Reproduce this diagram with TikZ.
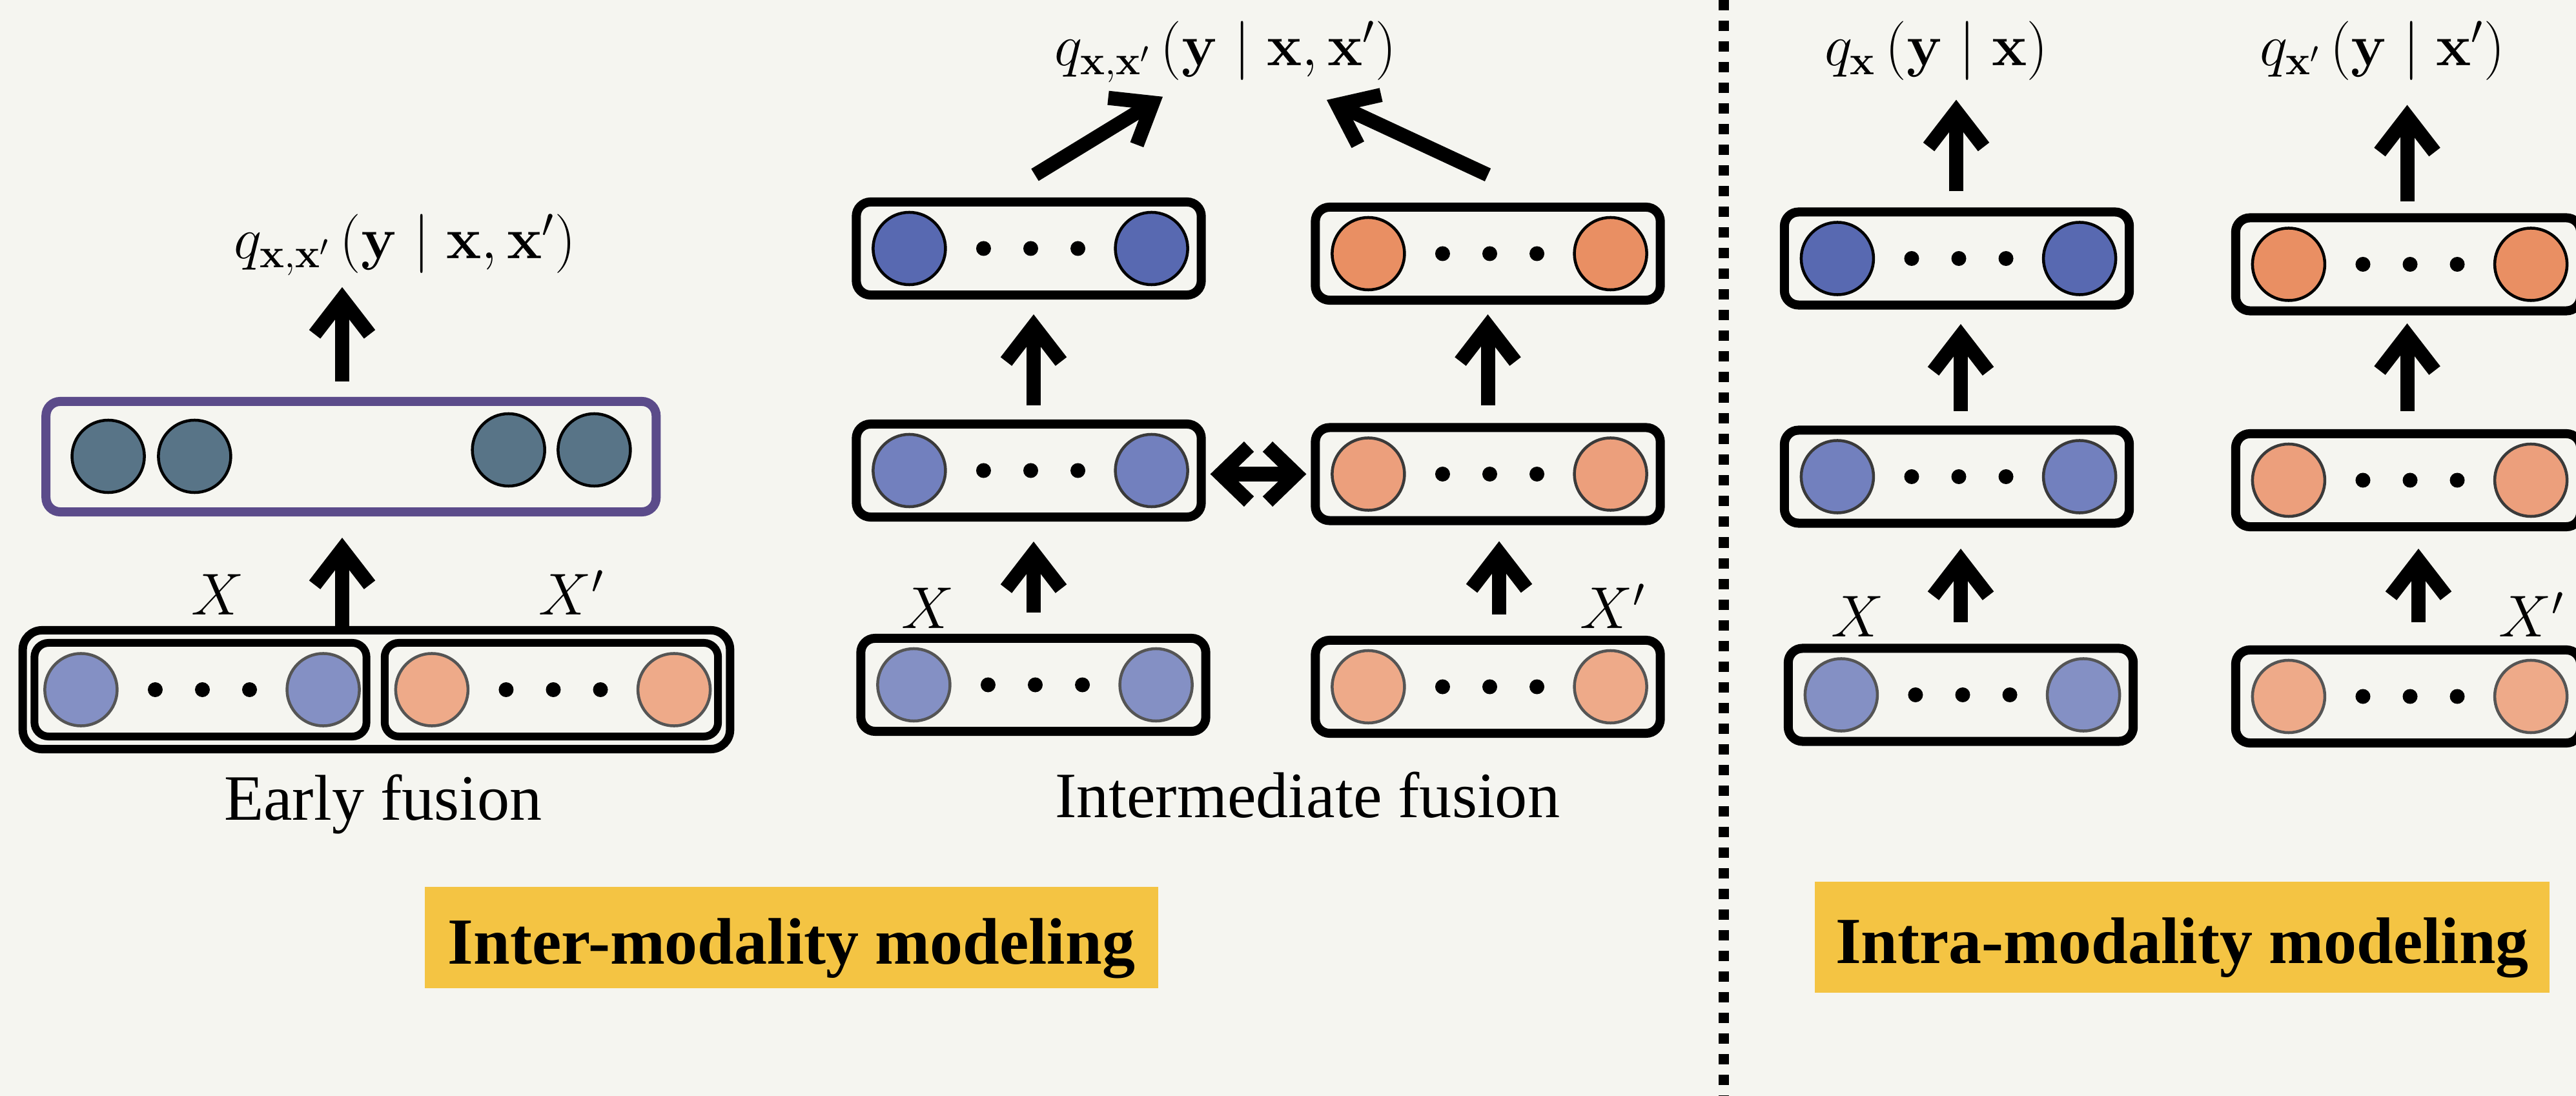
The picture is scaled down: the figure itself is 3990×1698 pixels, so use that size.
\RequirePackage{fix-cm}
\documentclass[tikz,border=0pt]{standalone}
\usepackage[no-math]{fontspec}
\setmainfont{Liberation Serif}
\usetikzlibrary{arrows.meta,calc}

\definecolor{paper}{HTML}{F5F5F0}
\definecolor{tagyellow}{HTML}{F4C443}
\definecolor{fusepurple}{HTML}{5B4B8A}
\definecolor{fuseteal}{HTML}{587487}
\definecolor{bluetop}{HTML}{5869B1}
\definecolor{bluemid}{HTML}{7280BE}
\definecolor{bluelow}{HTML}{8490C4}
\definecolor{orangetop}{HTML}{E98F63}
\definecolor{orangemid}{HTML}{EC9F7C}
\definecolor{orangelow}{HTML}{EEAA89}
\definecolor{ringmid}{HTML}{3A3A3A}
\definecolor{ringlow}{HTML}{555555}

% one layer: rounded box, two units, three dots
\newcommand\mklayer[5]{%
  \node[#5] (#1) at (#2) {};
  \node[unit, fill=#3, draw=#4] (#1-l) at ([xshift=-1.85cm]#1.center) {};
  \node[unit, fill=#3, draw=#4] (#1-r) at ([xshift=1.90cm]#1.center) {};
  \node[dot] (#1-d1) at ([xshift=-0.70cm]#1.center) {};
  \node[dot] (#1-d2) at ([xshift=0.03cm]#1.center) {};
  \node[dot] (#1-d3) at ([xshift=0.76cm]#1.center) {};
}

\begin{document}
\begin{tikzpicture}[x=0.01cm, y=-0.01cm,
  box/.style={draw=black, line width=0.14cm, rounded corners=0.22cm, fill=paper,
    minimum width=5.34cm, minimum height=1.44cm, inner sep=0pt},
  inbox/.style={box, line width=0.12cm, minimum width=5.14cm, minimum height=1.45cm},
  unit/.style={circle, line width=0.045cm, minimum size=1.12cm, inner sep=0pt},
  dot/.style={circle, fill=black, minimum size=0.23cm, inner sep=0pt},
  arr/.style={line width=0.22cm, -{Straight Barb[length=0.55cm,width=0.85cm]}},
  biarr/.style={line width=0.22cm,
    {Straight Barb[length=0.44cm,width=0.85cm]}-{Straight Barb[length=0.44cm,width=0.85cm]}},
  lbl/.style={inner sep=0pt, anchor=base, font=\fontsize{28.5}{34}\selectfont},
  mlbl/.style={inner sep=0pt, anchor=base, font=\fontsize{26}{30}\selectfont},
  tag/.style={fill=tagyellow, inner sep=0pt, text height=1.0cm, text depth=0.19cm,
    font=\fontsize{29}{34}\selectfont\bfseries}]

\path[use as bounding box, fill=paper] (0,0) rectangle (3990,1698);

% ---------- early fusion ----------
\node[box, line width=0.13cm, minimum width=10.95cm, minimum height=1.84cm,
  rounded corners=0.3cm] (ef) at (583,1068.5) {};
\mklayer{efx}{310.5,1068.5}{bluelow}{ringlow}{inbox}
\mklayer{efy}{854,1068.5}{orangelow}{ringlow}{inbox, minimum width=5.16cm}
\node[box, draw=fusepurple, minimum width=9.445cm, minimum height=1.71cm] (efh) at (543.75,707.5) {};
\node[unit, fill=fuseteal, draw=black] (efh-1) at (167.6,707) {};
\node[unit, fill=fuseteal, draw=black] (efh-2) at (301.4,707) {};
\node[unit, fill=fuseteal, draw=black] (efh-3) at (787.7,697) {};
\node[unit, fill=fuseteal, draw=black] (efh-4) at (920.4,697) {};
\node[mlbl] (efq) at (627,401) {$q_{\mathbf{x},\mathbf{x}'}\,\bigl(\mathbf{y}\mid\mathbf{x},\mathbf{x}'\bigr)$};
\node[mlbl] (efxl) at (337,953) {$X$};
\node[mlbl] (efyl) at (885,953) {$X'$};
\node[lbl] (eftitle) at (593.5,1271) {Early fusion};
\coordinate (efcol) at (530,0);
\draw[arr, shorten >=0.33cm] (ef.north -| efcol) -- (efh.south -| efcol);
\draw[arr, shorten <=0.24cm, shorten >=0.17cm] (efh.north -| efcol) -- (efq.south -| efcol);

% ---------- intermediate fusion ----------
\mklayer{ilt}{1593.5,385}{bluetop}{black}{box}
\mklayer{irt}{2304.5,393}{orangetop}{black}{box}
\mklayer{ilm}{1593.5,729}{bluemid}{ringmid}{box}
\mklayer{irm}{2304.5,734.5}{orangemid}{ringmid}{box}
\mklayer{ilb}{1600.5,1061}{bluelow}{ringlow}{box}
\mklayer{irb}{2304.5,1064}{orangelow}{ringlow}{box}
\node[mlbl] (iq) at (1898,102) {$q_{\mathbf{x},\mathbf{x}'}\,\bigl(\mathbf{y}\mid\mathbf{x},\mathbf{x}'\bigr)$};
\node[mlbl] (ixl) at (1437,974) {$X$};
\node[mlbl] (iyl) at (2498,974) {$X'$};
\node[lbl] (ititle) at (2025,1267) {Intermediate fusion};
\coordinate (ilcol) at (1601,0);
\coordinate (ircola) at (2304.5,0);
\coordinate (ircolb) at (2322,0);
\draw[arr, shorten <=0.22cm, shorten >=0.23cm] (ilm.north -| ilcol) -- (ilt.south -| ilcol);
\draw[arr, shorten <=0.33cm, shorten >=0.31cm] (ilb.north -| ilcol) -- (ilm.south -| ilcol);
\draw[arr, shorten <=0.27cm, shorten >=0.15cm] (irm.north -| ircola) -- (irt.south -| ircola);
\draw[arr, shorten <=0.33cm, shorten >=0.25cm] (irb.north -| ircolb) -- (irm.south -| ircolb);
\draw[arr] ($(ilt.north)+(9.5,-35)$) -- ($(iq.south)+(-97,21)$);
\draw[arr] ($(irt.north)+(0,-43)$) -- ($(iq.south)+(157,26)$);
\draw[biarr, shorten <=0.07cm, shorten >=0.07cm] (ilm.east |- irm.west) -- (irm.west);

% ---------- separator ----------
\draw[line width=0.16cm, dash pattern=on 0.16cm off 0.16cm] (2670,0) -- (2670,1698);

% ---------- intra-modality ----------
\mklayer{alt}{3031,400.5}{bluetop}{black}{box}
\mklayer{alm}{3031,738.5}{bluemid}{ringmid}{box}
\mklayer{alb}{3037,1076.5}{bluelow}{ringlow}{box}
\mklayer{art}{3730,409.5}{orangetop}{black}{box}
\mklayer{arm}{3730,744}{orangemid}{ringmid}{box}
\mklayer{arb}{3730,1079}{orangelow}{ringlow}{box}
\node[mlbl] (aql) at (2999,102) {$q_{\mathbf{x}}\,\bigl(\mathbf{y}\mid\mathbf{x}\bigr)$};
\node[mlbl] (aqr) at (3690,102) {$q_{\mathbf{x}'}\,\bigl(\mathbf{y}\mid\mathbf{x}'\bigr)$};
\node[mlbl] (axl) at (2877,987) {$X$};
\node[mlbl] (ayl) at (3921,987) {$X'$};
\coordinate (alcola) at (3030,0);
\coordinate (alcolb) at (3037,0);
\coordinate (arcola) at (3728.5,0);
\coordinate (arcolb) at (3746,0);
\draw[arr, shorten <=0.25cm, shorten >=0.29cm] (alt.north -| alcola) -- (aql.south -| alcola);
\draw[arr, shorten <=0.225cm, shorten >=0.225cm] (alm.north -| alcolb) -- (alt.south -| alcolb);
\draw[arr, shorten <=0.335cm, shorten >=0.325cm] (alb.north -| alcolb) -- (alm.south -| alcolb);
\draw[arr, shorten <=0.185cm, shorten >=0.37cm] (art.north -| arcola) -- (aqr.south -| arcola);
\draw[arr, shorten <=0.28cm, shorten >=0.125cm] (arm.north -| arcola) -- (art.south -| arcola);
\draw[arr, shorten <=0.36cm, shorten >=0.27cm] (arb.north -| arcolb) -- (arm.south -| arcolb);

% ---------- section tags ----------
\node[tag, minimum width=11.36cm, minimum height=1.57cm] (inter) at (1226,1452.5) {Inter-modality modeling};
\node[tag, minimum width=11.38cm, minimum height=1.72cm] (intra) at (3380,1452) {Intra-modality modeling};

\end{tikzpicture}
\end{document}
